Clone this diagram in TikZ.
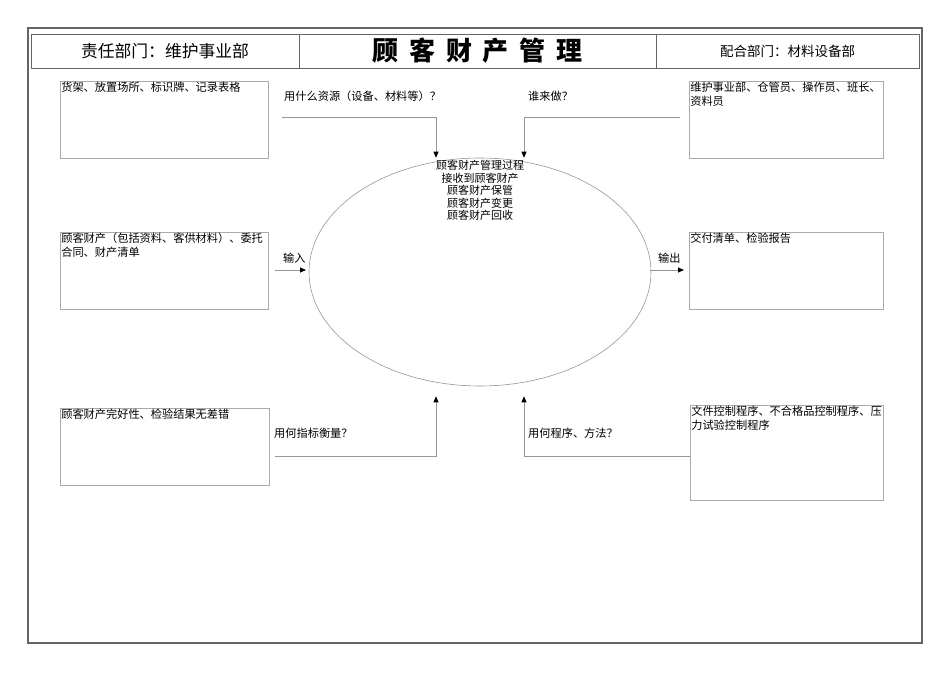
\documentclass[tikz,border=0pt]{standalone}
\usepackage{fontspec}
\setmainfont{Noto Sans CJK SC}
\usepackage{xcolor}
\usepackage{tikz}
\usetikzlibrary{shapes,arrows,arrows.meta,positioning,calc}
\definecolor{framegray}{RGB}{100, 100, 100}
\definecolor{boxgray}{RGB}{170, 170, 170}
\definecolor{linegray}{RGB}{150, 150, 150}

\begin{document}
\begin{tikzpicture}[
    x=1pt, y=-1pt,
    hcell/.style={rectangle, draw=framegray, line width=1pt, minimum height=34pt, inner sep=0pt, align=center},
    infobox/.style={rectangle, draw=boxgray, line width=0.8pt, minimum width=208pt, minimum height=77pt, inner sep=0pt},
    infotext/.style={anchor=north west, inner sep=1.5pt, align=left, font=\fontsize{11.2}{13.5}\selectfont},
    qlabel/.style={anchor=west, inner sep=0pt, font=\fontsize{11.2}{13.5}\selectfont},
    arrow/.style={->, >={Stealth[black, length=6pt, width=5pt, inset=0pt]}, draw=linegray, line width=0.8pt}
]
\useasboundingbox (0,0) rectangle (950,672);

% Outer frame
\draw[framegray, line width=1.6pt] (28,28) rectangle (922,643);

% Header row
\node[hcell, minimum width=268pt, font=\fontsize{16.8}{19}\selectfont] (resp) at (165,51) {责任部门：维护事业部};
\node[hcell, minimum width=357pt, font=\fontsize{26}{30}\selectfont\bfseries] (title) at (477.5,51)
    {顾\hspace{11pt}客\hspace{11pt}财\hspace{11pt}产\hspace{11pt}管\hspace{11pt}理};
\node[hcell, minimum width=263pt, font=\fontsize{13.5}{16}\selectfont] (coop) at (787.5,51) {配合部门：材料设备部};

% Process ellipse in the middle
\node[ellipse, draw=linegray, line width=0.6pt, minimum width=342pt, minimum height=228pt, inner sep=0pt] (proc) at (480,272) {};
\node[anchor=north, inner sep=0pt, align=center, font=\fontsize{11}{12.5}\selectfont] (steps) at (480,160)
    {顾客财产管理过程\\接收到顾客财产\\顾客财产保管\\顾客财产变更\\顾客财产回收};

% Left column boxes
\node[infobox] (resbox) at (164,119.5) {};
\node[infotext] (restext) at (resbox.north west) {货架、放置场所、标识牌、记录表格};
\node[infobox] (inbox) at (164,270.5) {};
\node[infotext] (intext) at (inbox.north west) {顾客财产（包括资料、客供材料）、委托\\合同、财产清单};
\node[infobox, minimum width=209pt] (measbox) at (164.5,446.5) {};
\node[infotext] (meastext) at (measbox.north west) {顾客财产完好性、检验结果无差错};

% Right column boxes
\node[infobox, minimum width=194pt] (whobox) at (786,119.5) {};
\node[infotext] (whotext) at (whobox.north west) {维护事业部、仓管员、操作员、班长、\\资料员};
\node[infobox, minimum width=194pt] (outbox) at (786,270.5) {};
\node[infotext] (outtext) at (outbox.north west) {交付清单、检验报告};
\node[infobox, minimum width=193pt, minimum height=95pt] (procbox) at (786.5,452.5) {};
\node[infotext] (proctext) at (procbox.north west) {文件控制程序、不合格品控制程序、压\\力试验控制程序};

% Question labels
\node[qlabel] (resq) at (284,96) {用什么资源（设备、材料等）？};
\node[qlabel] (whoq) at (528,96) {谁来做？};
\node[qlabel] (inq) at (283,258) {输入};
\node[qlabel] (outq) at (658,258) {输出};
\node[qlabel] (measq) at (274,433) {用何指标衡量？};
\node[qlabel] (procq) at (528,433) {用何程序、方法？};

% Connector ends
\coordinate (resfrom) at (282,117);
\coordinate (resto) at ($(proc.north)+(-44,0)$);
\coordinate (whofrom) at (680,117);
\coordinate (whoto) at ($(proc.north)+(44,0)$);
\coordinate (infrom) at (275,270);
\coordinate (into) at (306,270);
\coordinate (outfrom) at (650,270);
\coordinate (outto) at (684,270);
\coordinate (measfrom) at (275,456);
\coordinate (measto) at ($(proc.south)+(-44,10)$);
\coordinate (procfrom) at (690,456);
\coordinate (procto) at ($(proc.south)+(44,10)$);

% Connectors
\draw[arrow] (resfrom) -| (resto);
\draw[arrow] (whofrom) -| (whoto);
\draw[arrow] (infrom) -- (into);
\draw[arrow] (outfrom) -- (outto);
\draw[arrow] (measfrom) -| (measto);
\draw[arrow] (procfrom) -| (procto);

\end{tikzpicture}
\end{document}
